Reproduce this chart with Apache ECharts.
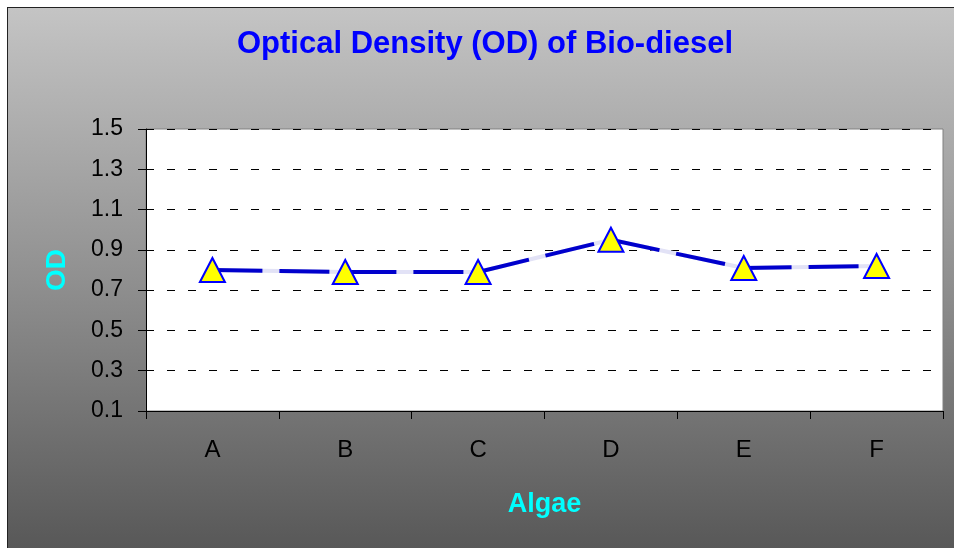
<!DOCTYPE html>
<html>
<head>
<meta charset="utf-8">
<script src="https://cdn.jsdelivr.net/npm/echarts@6/dist/echarts.min.js"></script>
<style>
html,body{margin:0;padding:0;background:#fff;}
#bg{position:absolute;left:7px;top:7px;width:947px;height:541px;border-left:1px solid #222;border-top:1px solid #222;box-sizing:border-box;background:linear-gradient(to bottom,#c4c4c4 0%,#909090 50%,#585858 100%);}
#chart{position:absolute;left:0;top:0;width:954px;height:548px;}
</style>
</head>
<body>
<div id="bg"></div>
<div id="chart"></div>
<script>
const titleText = 'Optical Density (OD) of Bio-diesel';
const categories = ['A', 'B', 'C', 'D', 'E', 'F'];
const odValues = [0.80, 0.79, 0.79, 0.95, 0.81, 0.82];
const xName = 'Algae';
const yName = 'OD';
const yMin = 0.1, yMax = 1.5, yStep = 0.2;

const chart = echarts.init(document.getElementById('chart'), null, {renderer: 'canvas'});
chart.setOption({
  backgroundColor: 'transparent',
  animation: false,
  title: {
    text: titleText,
    left: 485, top: 29, padding: 0, textAlign: 'center',
    textStyle: {color: '#0000FF', fontSize: 31, fontWeight: 'bold', fontFamily: 'Liberation Sans, Arial, sans-serif'}
  },
  grid: {left: 146, right: 11, top: 129, bottom: 137, show: true, backgroundColor: '#fff', borderColor: '#808080', borderWidth: 1, containLabel: false, outerBoundsMode: 'none'},
  xAxis: {
    type: 'category', data: categories, boundaryGap: true,
    name: xName, nameLocation: 'middle', nameGap: 80,
    nameTextStyle: {color: '#00FFFF', fontSize: 27, fontWeight: 'bold', fontFamily: 'Liberation Sans, Arial, sans-serif'},
    axisLine: {lineStyle: {color: '#000', width: 1}},
    axisTick: {show: true, alignWithLabel: false, length: 8, lineStyle: {color: '#000'}},
    axisLabel: {margin: 27, color: '#000', fontSize: 24, fontFamily: 'Liberation Sans, Arial, sans-serif'},
    splitLine: {show: false}
  },
  yAxis: {
    type: 'value', min: yMin, max: yMax, interval: yStep,
    name: yName, nameLocation: 'middle', nameGap: 75, nameRotate: 90,
    nameTextStyle: {color: '#00FFFF', fontSize: 28, fontWeight: 'bold', fontFamily: 'Liberation Sans, Arial, sans-serif'},
    axisLine: {show: true, lineStyle: {color: '#000', width: 1}},
    axisTick: {show: true, length: 8, lineStyle: {color: '#000'}},
    axisLabel: {margin: 23, color: '#000', fontSize: 23, fontFamily: 'Liberation Sans, Arial, sans-serif',
      formatter: v => v.toFixed(1)},
    splitLine: {show: true, lineStyle: {color: '#000', width: 1, type: [8, 13]}}
  },
  series: [
    {
      type: 'line', data: odValues, showSymbol: false, symbol: 'none',
      lineStyle: {color: '#E2E2F6', width: 4}, z: 2, silent: true
    },
    {
      type: 'line', data: odValues, symbol: 'triangle', symbolSize: [25, 24], showSymbol: true,
      lineStyle: {color: '#0000CC', width: 4, type: [50, 17]},
      itemStyle: {color: '#FFFF00', borderColor: '#0000FF', borderWidth: 2},
      z: 3
    }
  ]
});
</script>
</body>
</html>
